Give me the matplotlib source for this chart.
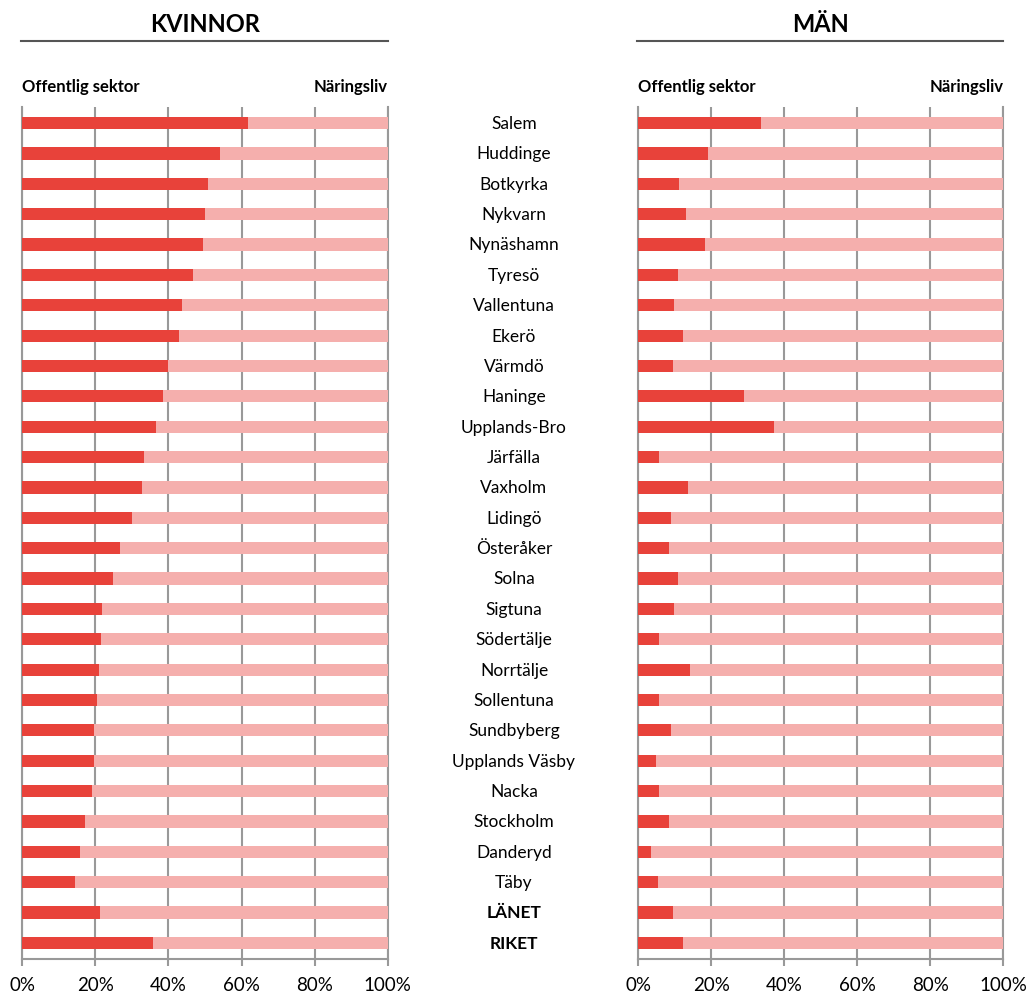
import matplotlib.pyplot as plt
import matplotlib.transforms as mtransforms
from matplotlib.lines import Line2D

# === Data (andel i offentlig sektor, %) ===
kommuner = ["Salem", "Huddinge", "Botkyrka", "Nykvarn", "Nynäshamn", "Tyresö",
            "Vallentuna", "Ekerö", "Värmdö", "Haninge", "Upplands-Bro", "Järfälla",
            "Vaxholm", "Lidingö", "Österåker", "Solna", "Sigtuna", "Södertälje",
            "Norrtälje", "Sollentuna", "Sundbyberg", "Upplands Väsby", "Nacka",
            "Stockholm", "Danderyd", "Täby", "LÄNET", "RIKET"]
kvinnor = [61.7, 54.1, 50.8, 50.0, 49.4, 46.6, 43.7, 42.9, 40.0, 38.5, 36.6, 33.3,
           32.8, 30.0, 26.7, 24.8, 21.9, 21.5, 21.0, 20.4, 19.7, 19.6, 19.1, 17.2,
           15.8, 14.4, 21.4, 35.8]
man = [33.6, 19.1, 11.2, 13.1, 18.3, 10.9, 9.9, 12.2, 9.5, 29.0, 37.2, 5.7,
       13.6, 8.9, 8.5, 10.9, 9.9, 5.7, 14.1, 5.7, 8.9, 4.8, 5.7, 8.5,
       3.5, 5.3, 9.5, 12.2]
bold_rows = ["LÄNET", "RIKET"]
xticks = [0, 20, 40, 60, 80, 100]
xtick_labels = ["0%", "20%", "40%", "60%", "80%", "100%"]

# === Style ===
plt.rcParams['font.family'] = ['Lato', 'DejaVu Sans']
c_off = "#E8423A"
c_nar = "#F5AFAD"
c_grid = "#999999"

W, H = 1029, 994
fig = plt.figure(figsize=(W / 100, H / 100), dpi=100)

ax_bottom = (H - 959) / H
ax_height = 852 / H
axes = [
    fig.add_axes([22.3 / W, ax_bottom, 365.4 / W, ax_height]),
    fig.add_axes([638.3 / W, ax_bottom, 365.0 / W, ax_height]),
]
titles = ["KVINNOR", "MÄN"]
series = [kvinnor, man]

y = list(range(len(kommuner)))
for ax, vals, title in zip(axes, series, titles):
    rest = [100 - v for v in vals]
    ax.barh(y, vals, height=0.4, color=c_off, zorder=3)
    ax.barh(y, rest, left=vals, height=0.4, color=c_nar, zorder=3)
    ax.set_xlim(0, 100)
    ax.set_ylim(len(kommuner) - 0.47, -0.53)
    ax.set_xticks(xticks)
    ax.set_xticklabels(xtick_labels, fontsize=13.5)
    ax.set_yticks([])
    ax.grid(axis="x", color=c_grid, linewidth=1.5, zorder=0)
    ax.set_axisbelow(True)
    ax.spines["top"].set_visible(False)
    for s in ["left", "right", "bottom"]:
        ax.spines[s].set_color(c_grid)
        ax.spines[s].set_linewidth(1.5)
    ax.tick_params(axis="x", direction="out", length=5, width=1.5,
                   color=c_grid, pad=8)

    # header above each panel
    pos = ax.get_position()
    xc = (pos.x0 + pos.x1) / 2
    fig.text(xc, 1 - 24 / H, title, ha="center", va="center",
             fontsize=17, fontweight="bold", color="black")
    fig.add_artist(Line2D([pos.x0 - 1 / W, pos.x1], [1 - 41 / H, 1 - 41 / H],
                          color="#555555", linewidth=1.5,
                          transform=fig.transFigure))
    fig.text(pos.x0, 1 - 87 / H, "Offentlig sektor", ha="left", va="center",
             fontsize=12, fontweight="bold")
    fig.text(pos.x1, 1 - 87 / H, "Näringsliv", ha="right", va="center",
             fontsize=12, fontweight="bold")

# municipality names between the panels
trans = mtransforms.blended_transform_factory(fig.transFigure, axes[0].transData)
for i, name in enumerate(kommuner):
    fig.text(514 / W, i + 0.03, name, transform=trans, ha="center", va="center",
             fontsize=12.5,
             fontweight="bold" if name in bold_rows else "normal")

plt.savefig("out.png", dpi=100)
